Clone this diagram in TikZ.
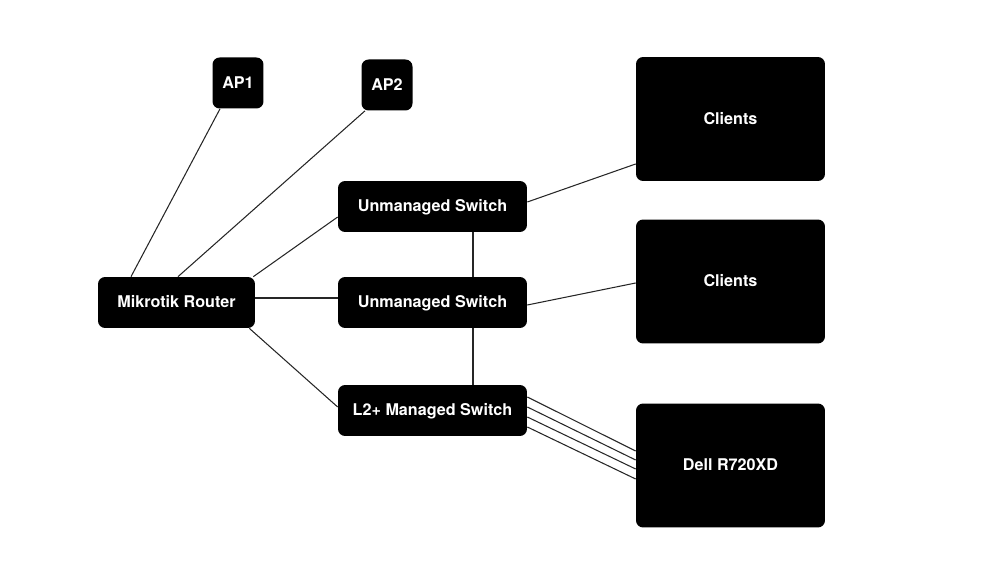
\documentclass[tikz,border=0pt]{standalone}
\usepackage{fontspec}
\setsansfont{TeX Gyre Heros}
\usetikzlibrary{positioning}

\begin{document}
\begin{tikzpicture}[x=0.02cm, y=-0.02cm,
    box/.style={fill=black, rounded corners=4pt, text=white, inner sep=0pt,
        text height=6.8pt, text depth=0.6pt,
        font=\sffamily\bfseries\fontsize{9.2}{11}\selectfont},
    switchbox/.style={box, minimum width=3.78cm, minimum height=1.02cm},
    apbox/.style={box, minimum width=1.02cm, minimum height=1.02cm},
    hostbox/.style={box, minimum width=3.78cm, minimum height=2.48cm},
    link/.style={line width=0.6pt, black!85}]
    \useasboundingbox (0,0) rectangle (1000,563);

    % Router and access points
    \node[box, minimum width=3.14cm, minimum height=1.02cm] (router) at (176.5, 302.5) {Mikrotik Router};
    \node[apbox] (ap1) at (238, 83) {AP1};
    \node[apbox] (ap2) at (387, 85) {AP2};

    % Switches
    \node[switchbox] (us1) at (432.5, 206.5) {Unmanaged Switch};
    \node[switchbox] (us2) at (432.5, 302.5) {Unmanaged Switch};
    \node[switchbox] (l2) at (432.5, 410.5) {L2+ Managed Switch};

    % End hosts
    \node[hostbox] (clients1) at (730.5, 119) {Clients};
    \node[hostbox] (clients2) at (730.5, 281.5) {Clients};
    \node[hostbox] (dell) at (730.5, 465.5) {Dell R720XD};

    % Uplinks from the router
    \draw[link] ([xshift=-0.36cm]ap1.south) -- ([xshift=-0.91cm]router.north);
    \draw[link] ([xshift=-0.44cm]ap2.south) -- ([xshift=0.03cm]router.north);
    \draw[link] ([xshift=-0.04cm]router.north east) -- ([yshift=-0.21cm]us1.west);
    \draw[link] ([yshift=0.09cm]router.east) -- ([yshift=0.09cm]us2.west);
    \draw[link] ([xshift=-0.12cm]router.south east) -- ([yshift=0.07cm]l2.west);

    % Switch chain
    \draw[link] ([xshift=0.81cm]us1.south) -- ([xshift=0.81cm]us2.north);
    \draw[link] ([xshift=0.81cm]us2.south) -- ([xshift=0.81cm]l2.north);

    % Client links
    \draw[link] ([yshift=0.09cm]us1.east) -- ([yshift=-0.9cm]clients1.west);
    \draw[link] ([yshift=-0.05cm]us2.east) -- ([yshift=-0.03cm]clients2.west);

    % Server uplinks (4 ports)
    \foreach \a/\b in {0.27/0.29, 0.07/0.11, -0.13/-0.07, -0.33/-0.27}
        \draw[link] ([yshift=\a cm]l2.east) -- ([yshift=\b cm]dell.west);
\end{tikzpicture}
\end{document}
